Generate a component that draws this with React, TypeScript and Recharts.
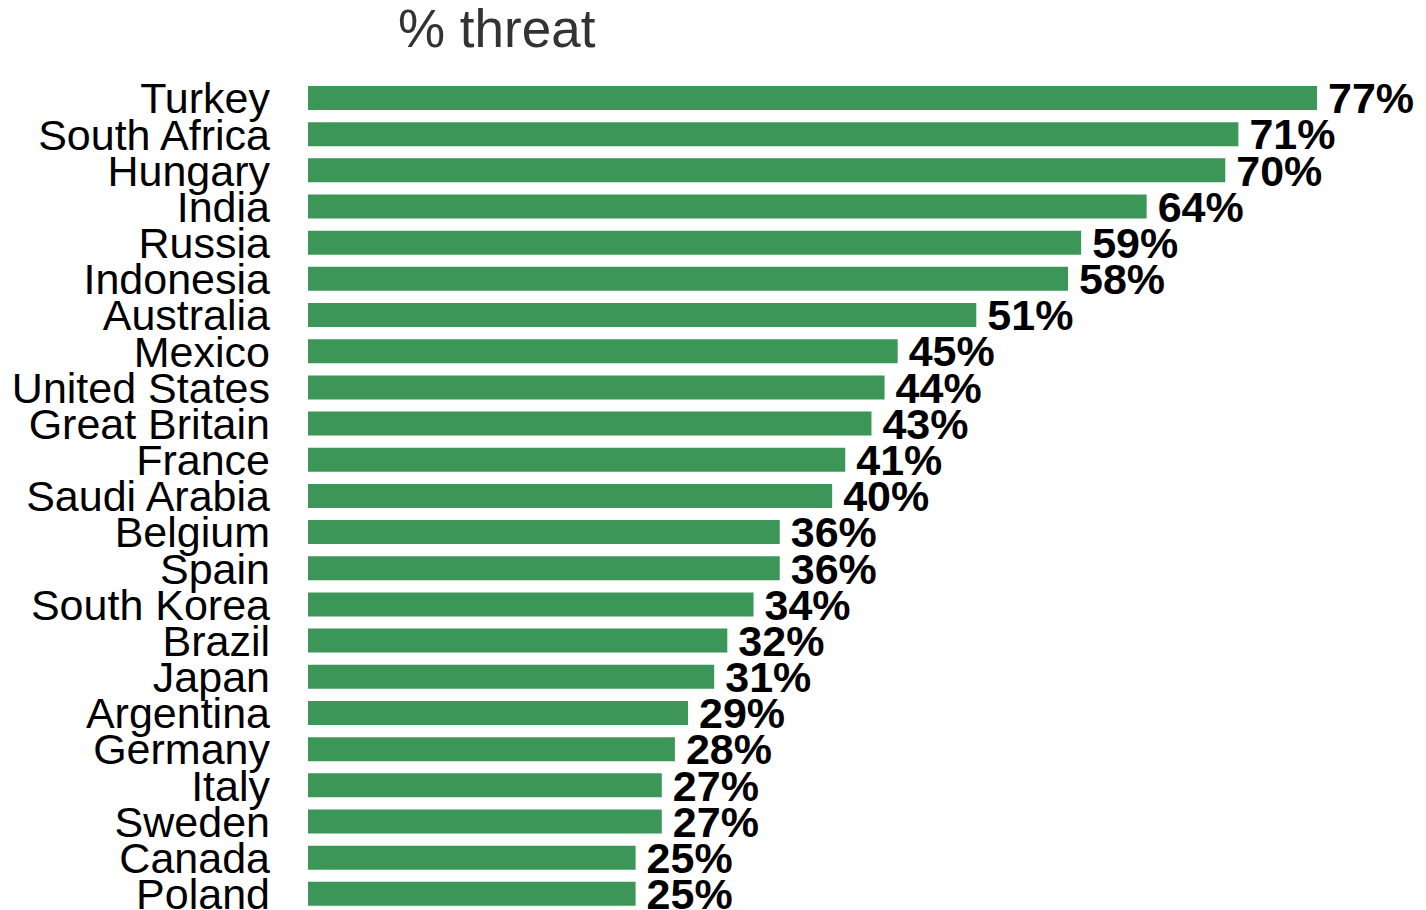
import React from 'react';
import { BarChart, Bar, XAxis, YAxis, LabelList } from 'recharts';

const countries = [
  'Turkey', 'South Africa', 'Hungary', 'India', 'Russia', 'Indonesia', 'Australia',
  'Mexico', 'United States', 'Great Britain', 'France', 'Saudi Arabia', 'Belgium',
  'Spain', 'South Korea', 'Brazil', 'Japan', 'Argentina', 'Germany', 'Italy',
  'Sweden', 'Canada', 'Poland',
];
const threat = [77, 71, 70, 64, 59, 58, 51, 45, 44, 43, 41, 40, 36, 36, 34, 32, 31, 29, 28, 27, 27, 25, 25];

const data = countries.map((country, i) => ({ country, value: threat[i] }));

const FONT = '"Liberation Sans", Arial, sans-serif';

const App: React.FC = () => (
  <div style={{ position: 'absolute', left: 0, top: 0, width: 1426, height: 910, background: '#fff' }}>
    <svg width={1426} height={70} style={{ position: 'absolute', left: 0, top: 0 }}>
      <text x={398} y={47} fontFamily={FONT} fontSize={53} fill="#333333">% threat</text>
    </svg>
    <BarChart
      width={1426}
      height={910}
      data={data}
      layout="vertical"
      margin={{ top: 80, right: 109, left: 0, bottom: -2 }}
      barSize={24}
    >
      <XAxis type="number" domain={[0, 77]} hide />
      <YAxis
        type="category"
        dataKey="country"
        width={308}
        interval={0}
        axisLine={false}
        tickLine={false}
        tickMargin={32}
        tick={{ fill: '#000', fontSize: 43, fontFamily: FONT }}
      />
      <Bar dataKey="value" fill="#3c9657" isAnimationActive={false}>
        <LabelList
          dataKey="value"
          position="right"
          offset={11}
          formatter={(v: number) => `${v}%`}
          style={{ fill: '#000', fontSize: 43, fontWeight: 'bold', fontFamily: FONT }}
        />
      </Bar>
    </BarChart>
  </div>
);

export default App;
